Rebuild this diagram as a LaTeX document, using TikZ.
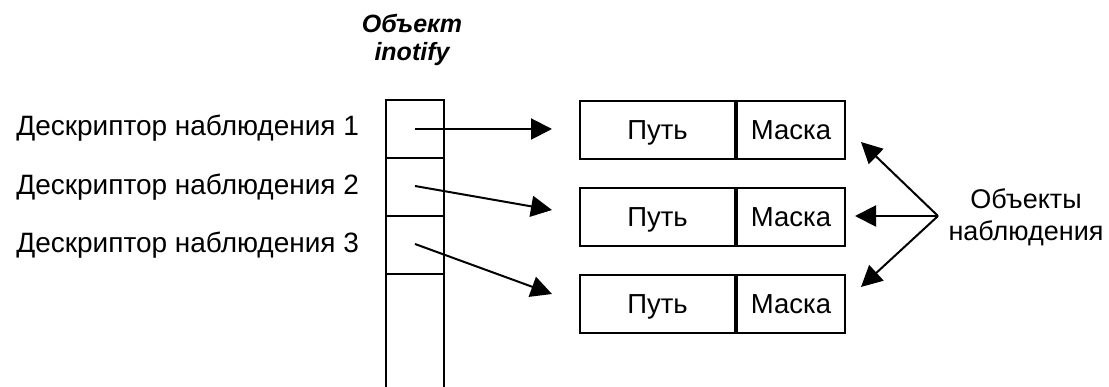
\documentclass[tikz,border=0pt]{standalone}
\usepackage{fontspec}
\setmainfont{Liberation Sans}
\usetikzlibrary{arrows.meta}

\begin{document}
\begin{tikzpicture}[x=1pt,y=-1pt,line width=2pt,
    box/.style={draw,inner sep=0pt,minimum height=58pt,text depth=0pt,font=\fontsize{27.5}{33}\selectfont},
    label/.style={anchor=base west,font=\fontsize{28}{33}\selectfont},
    arr/.style={-{Triangle[length=21pt,width=21pt]}}]
  \useasboundingbox (0,0) rectangle (1109,387);
  % inotify column
  \draw (386,100) rectangle (444,395);
  \draw (386,158)--(444,158) (386,216)--(444,216) (386,274)--(444,274);
  \node[font=\fontsize{25}{28}\selectfont\bfseries\itshape,align=center] (T) at (412,40) {Объект\\inotify};
  \coordinate (D1) at (415,129);
  \coordinate (D2) at (415,186);
  \coordinate (D3) at (415,244);
  \node[label] (L1) at (12,136) {Дескриптор наблюдения 1};
  \node[label] (L2) at (12,195) {Дескриптор наблюдения 2};
  \node[label] (L3) at (12,253) {Дескриптор наблюдения 3};
  % watch objects
  \node[box,minimum width=155pt,anchor=north west] (P1) at (579,100) {Путь};
  \node[box,minimum width=108pt,anchor=west] (M1) at (P1.east) {Маска};
  \node[box,minimum width=155pt,anchor=north west] (P2) at (579,187) {Путь};
  \node[box,minimum width=108pt,anchor=west] (M2) at (P2.east) {Маска};
  \node[box,minimum width=155pt,anchor=north west] (P3) at (579,274) {Путь};
  \node[box,minimum width=108pt,anchor=west] (M3) at (P3.east) {Маска};
  \coordinate (E1) at (552,129);
  \coordinate (E2) at (552,210);
  \coordinate (E3) at (552,294);
  \draw[arr] (D1)--(E1);
  \draw[arr] (D2)--(E2);
  \draw[arr] (D3)--(E3);
  % label on the right
  \node[font=\fontsize{27}{32}\selectfont,align=center] (W) at (1026,217) {Объекты\\наблюдения};
  \coordinate (O) at (938,216);
  \coordinate (F1) at (861,142);
  \coordinate (F2) at (855,216);
  \coordinate (F3) at (861,287);
  \draw[arr] (O)--(F1);
  \draw[arr] (O)--(F2);
  \draw[arr] (O)--(F3);
\end{tikzpicture}
\end{document}
